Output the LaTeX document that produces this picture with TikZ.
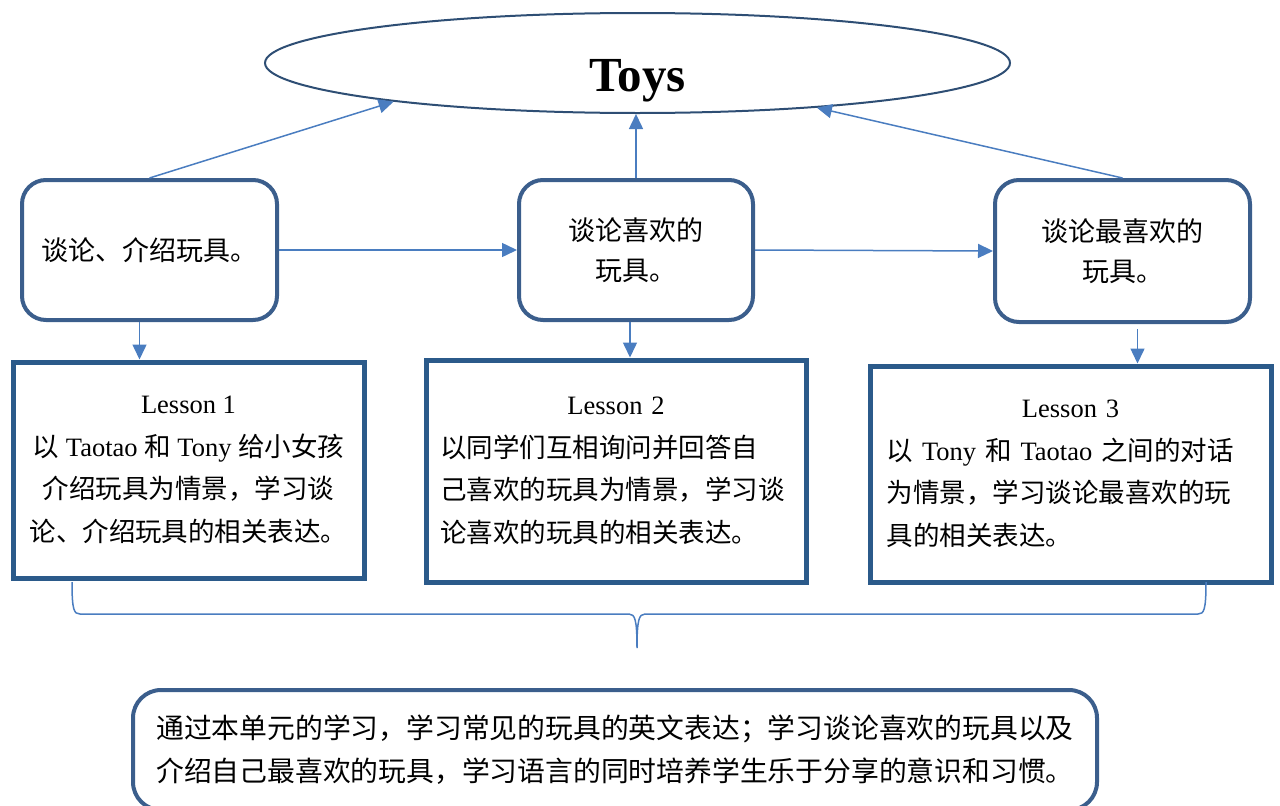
\documentclass[tikz,border=0pt]{standalone}
\usepackage{fontspec}
\setmainfont{Liberation Serif}
\newfontfamily\cjk{Noto Sans CJK SC}
\newcommand{\zh}[1]{{\cjk #1}}
\usetikzlibrary{shapes.geometric,arrows.meta}
\definecolor{boxblue}{HTML}{3B5E8C}
\definecolor{lessonblue}{HTML}{2B5A8A}
\definecolor{arrowblue}{HTML}{4A7DC0}
\definecolor{ovalblue}{HTML}{2E4E74}

\tikzset{
  topic/.style={draw=boxblue, line width=4pt, rounded corners=24pt,
    minimum width=255pt, minimum height=140pt, align=center,
    font=\cjk\fontsize{27}{40}\selectfont},
  lessonbox/.style={draw=lessonblue, line width=5pt,
    font=\fontsize{26.5}{42.5}\selectfont},
  conn/.style={draw=arrowblue, line width=1.5pt,
    -{Triangle[length=15pt,width=14pt]}},
}

\begin{document}
\begin{tikzpicture}[x=1pt,y=-1pt]
            \useasboundingbox (0,0) rectangle (1280,806);

            % title
            \node [ellipse, draw=ovalblue, line width=2pt, minimum width=745pt,
                minimum height=100pt, font=\bfseries\fontsize{49}{52}\selectfont]
                (toys) at (637.5,63) {\raisebox{-28pt}[0pt][0pt]{Toys}};

            % the three topics
            \node [topic] (t1) at (149.5,250) {谈论、介绍玩具。};
            \node [topic, minimum width=234pt] (t2) at (636,250) {谈论喜欢的\\玩具。};
            \node [topic, minimum height=142pt] (t3) at (1122.5,251) {谈论最喜欢的\\玩具。};

            % the three lessons
            \node [lessonbox, minimum width=351pt, minimum height=216pt, align=center]
                (l1) at (188.5,470) {Lesson 1\\
                \zh{以} Taotao \zh{和} Tony \zh{给小女孩}\\
                \zh{介绍玩具为情景，学习谈}\\
                \zh{论、介绍玩具的相关表达。}};
            \node [lessonbox, minimum width=380pt, minimum height=222pt,
                text width=352pt, align=left]
                (l2) at (616,471) {\mbox{}\hfill Lesson 2\hfill\mbox{}\\
                \zh{以同学们互相询问并回答自}\\
                \zh{己喜欢的玩具为情景，学习谈}\\
                \zh{论喜欢的玩具的相关表达。}};
            \node [lessonbox, minimum width=401pt, minimum height=216pt,
                text width=368pt, align=left]
                (l3) at (1070.5,474) {\mbox{}\hfill Lesson 3\hfill\mbox{}\\
                \zh{以}\hspace{9pt}Tony\hspace{9pt}\zh{和}\hspace{9pt}Taotao\hspace{9pt}\zh{之间的对话}\\
                \zh{为情景，学习谈论最喜欢的玩}\\
                \zh{具的相关表达。}};

            % summary
            \node [draw=boxblue, line width=4pt, rounded corners=28pt,
                minimum width=964pt, minimum height=120pt, align=left,
                font=\cjk\fontsize{27.8}{43}\selectfont]
                (sum) at (615,750) {通过本单元的学习，学习常见的玩具的英文表达；学习谈论喜欢的玩具以及\\
                介绍自己最喜欢的玩具，学习语言的同时培养学生乐于分享的意识和习惯。};

            % arrows
            \draw [conn] (t1.north) -- (toys.189);
            \draw [conn] (t2.north) -- (t2.north |- toys.south);
            \draw [conn] (t3.north) -- (toys.346);
            \draw [conn] (t1.east) -- (t2.west);
            \draw [conn] (t2.east) -- (t3.west);
            \draw [conn] ([xshift=-10pt]t1.south) -- ([xshift=-10pt]t1.south |- l1.north);
            \draw [conn] ([xshift=-6pt]t2.south) -- ([xshift=-6pt]t2.south |- l2.north);
            \draw [conn, shorten <=5pt] ([xshift=15pt]t3.south) -- ([xshift=15pt]t3.south |- l3.north);

            % brace under the lessons
            \draw [arrowblue, line width=1.5pt]
                (72,582) .. controls (72,610) and (74,614) .. (80,614) -- (629,614)
                .. controls (635,614) and (637,620) .. (637,648)
                .. controls (637,620) and (639,614) .. (645,614) -- (1198,614)
                .. controls (1204,614) and (1206,610) .. (1206,582);
        \end{tikzpicture}
\end{document}
